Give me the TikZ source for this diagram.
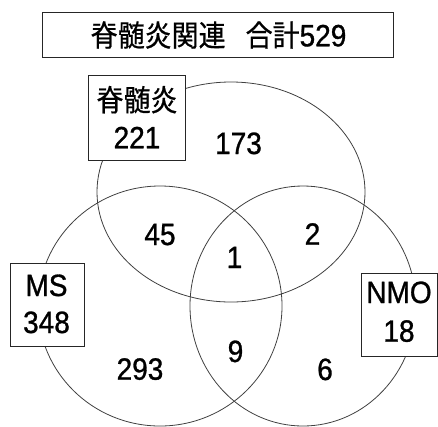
\documentclass[tikz,border=0pt]{standalone}
\usepackage{graphicx}
\usepackage{fontspec}
\setmainfont{Liberation Sans}
\newfontfamily\numfont{Liberation Sans}[FakeBold=1]
\newfontfamily\cjk{Noto Sans CJK JP}[FakeBold=0.6]
\newcommand\tallbox[1]{\scalebox{1}[1.1]{#1}}
\begin{document}
\begin{tikzpicture}[x=1pt,y=-1pt,
  venn/.style={draw=black!75, line width=0.8pt},
  labelbox/.style={draw=black!85, line width=0.8pt, fill=white, inner sep=0pt},
  num/.style={anchor=base, inner sep=0pt, font=\fontsize{28}{34}\selectfont\numfont},
  jp/.style={anchor=base, inner sep=0pt, font=\fontsize{27}{34}\selectfont\cjk},
]
\useasboundingbox (0,0) rectangle (438,426);
% sets
\draw[venn] (231,192) ellipse [x radius=134pt, y radius=110pt];
\draw[venn] (160,306) ellipse [x radius=122pt, y radius=120pt];
\draw[venn] (303,306) ellipse [x radius=113pt, y radius=120pt];
% boxes
\node[labelbox, minimum width=351pt, minimum height=45pt] (titlebox) at (217.7,34.8) {};
\node[labelbox, minimum width=97.5pt, minimum height=84.5pt] (myebox) at (137,118) {};
\node[labelbox, minimum width=74.3pt, minimum height=82.7pt] (msbox) at (47.1,304.7) {};
\node[labelbox, minimum width=76.5pt, minimum height=83.4pt] (nmobox) at (399.3,315) {};
% title
\node[num] (title) at (218.5,46.3) {\tallbox{{\fontsize{27}{34}\selectfont\cjk 脊髄炎関連}\hspace{20pt}{\fontsize{27}{34}\selectfont\cjk 合計}529}};
% set labels
\node[jp] (myelname) at (137,111) {\tallbox{脊髄炎}};
\node[num] (myelnum) at (137,148.3) {\tallbox{221}};
\node[num] (msname) at (46.5,296) {\tallbox{MS}};
\node[num] (msnum) at (46.5,333) {\tallbox{348}};
\node[num] (nmoname) at (399,303) {\tallbox{NMO}};
\node[num] (nmonum) at (399,341.7) {\tallbox{18}};
% region counts
\node[num] (r173) at (238.5,154) {\tallbox{173}};
\node[num] (r45) at (160,245) {\tallbox{45}};
\node[num] (r2) at (312.5,244.7) {\tallbox{2}};
\node[num] (r1) at (234.5,268) {\tallbox{1}};
\node[num] (r9) at (235.5,362) {\tallbox{9}};
\node[num] (r293) at (140,379.7) {\tallbox{293}};
\node[num] (r6) at (325,380) {\tallbox{6}};
\end{tikzpicture}
\end{document}
